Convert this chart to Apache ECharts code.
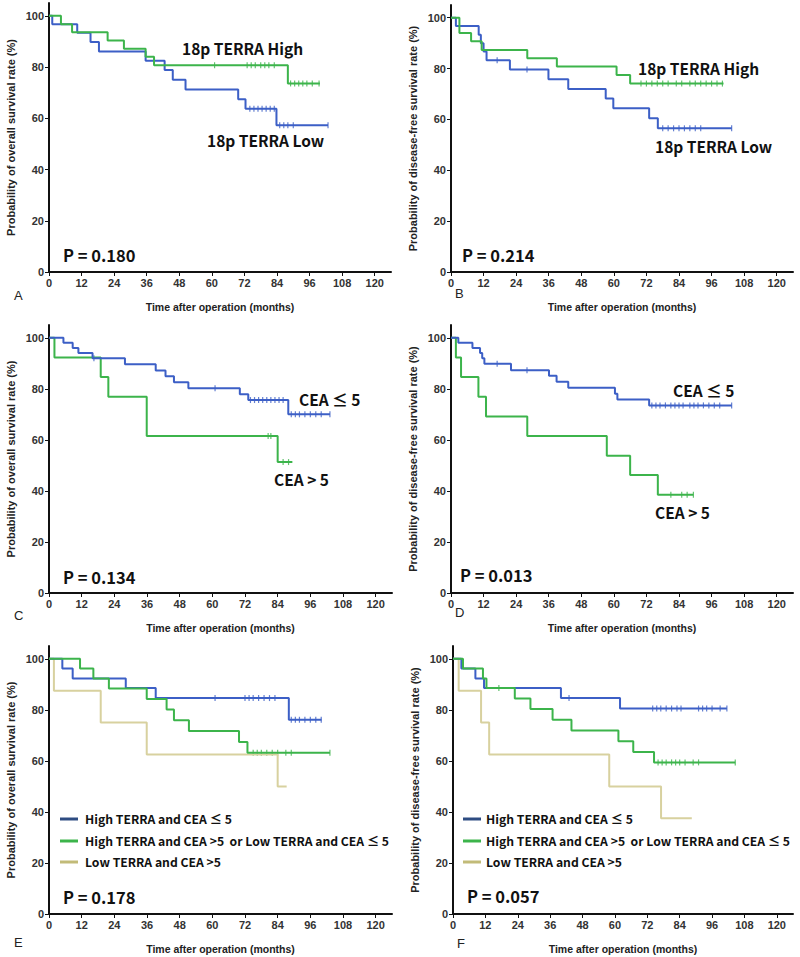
<!DOCTYPE html>
<html><head><meta charset="utf-8">
<script src="https://cdn.jsdelivr.net/npm/echarts@6/dist/echarts.min.js"></script>
<style>html,body{margin:0;padding:0;background:#fff}#c{width:800px;height:957px}</style>
</head><body><div id="c"></div>
<script>
// ---------- data ----------
const xTicks = [0, 12, 24, 36, 48, 60, 72, 84, 96, 108, 120];
const yTicks = [0, 20, 40, 60, 80, 100];
const panelLetters = ['A', 'B', 'C', 'D', 'E', 'F'];
const pValues = ['P = 0.180', 'P = 0.214', 'P = 0.134', 'P = 0.013', 'P = 0.178', 'P = 0.057'];
const yTitles = ['Probability of overall survival rate (%)', 'Probability of disease-free survival rate (%)'];
const xTitle = 'Time after operation (months)';
const legendNames = ['High TERRA and CEA \u2264 5', 'High TERRA and CEA >5  or Low TERRA and CEA \u2264 5', 'Low TERRA and CEA >5'];

// Panel A (OS, 18p TERRA)
const A_high_t = [0, 4.4, 8.5, 21.6, 27.6, 35.6, 38.7, 88, 99.8];
const A_high_s = [100, 96.7, 93.6, 90.4, 87.1, 84, 80.7, 73.6, 73.6];
const A_high_c = [61, 73, 74.5, 76, 78, 79.5, 81, 83, 89, 90.5, 92, 93.5, 95, 97, 99.5];
const A_low_t = [0, 1.2, 10.4, 15.3, 18.4, 35.6, 42.6, 45.6, 50.3, 69.7, 72.4, 83.8, 102.8];
const A_low_s = [100, 96.7, 93.4, 89.8, 86.1, 82.5, 78.8, 75, 71.2, 67.4, 63.7, 57.3, 57.3];
const A_low_c = [74, 75.5, 77, 78.5, 80, 81.5, 83, 85, 86.5, 88, 90, 102.8];
// Panel B (DFS, 18p TERRA)
const B_high_t = [0, 3.1, 7.4, 11.3, 28.1, 39, 61, 66, 100.4];
const B_high_s = [100, 94, 90.7, 87.3, 84.1, 80.8, 77.5, 74.1, 74.1];
const B_high_c = [70, 72, 74, 76, 78, 80, 83, 85, 88, 90, 92, 94, 96, 98, 100];
const B_low_t = [0, 1.8, 10.2, 11, 12, 13.1, 21.7, 35.9, 43.2, 57, 59.8, 73, 76.2, 103.4];
const B_low_s = [100, 96.7, 93.3, 90, 86.7, 83.3, 79.6, 75.8, 72, 68.2, 64.4, 60.5, 56.5, 56.5];
const B_low_c = [17, 28, 78, 80, 82, 84, 86, 88, 90, 92, 103.4];
// Panel C (OS, CEA)
const C_low_t = [0, 5.3, 8.7, 10.8, 16, 27.9, 39.2, 42.8, 45.9, 51.2, 70.1, 73.2, 87.9, 103.2];
const C_low_s = [100, 98, 96, 94, 92, 89.6, 87.2, 84.9, 82.6, 80.2, 77.9, 75.6, 70, 70];
const C_low_c = [16.5, 61, 74, 75.5, 77, 78.5, 80, 81.5, 83, 84.5, 86, 89, 90.5, 92, 94, 96, 98, 100, 103.2];
const C_high_t = [0, 2, 19, 21.8, 35.9, 84, 89.4];
const C_high_s = [100, 92.3, 84.6, 76.9, 61.5, 51.3, 51.3];
const C_high_c = [80.5, 81.5, 86, 88];
// Panel D (DFS, CEA)
const D_low_t = [0, 2.7, 7.9, 10.7, 11.5, 12.3, 22.1, 36.1, 38.9, 43.2, 60.4, 61.3, 73, 103.4];
const D_low_s = [100, 98, 96, 94, 92, 89.8, 87.3, 85.1, 82.8, 80.4, 78.1, 75.8, 73.5, 73.5];
const D_low_c = [17, 28, 74, 75.5, 77, 79, 81, 82.5, 84, 85.5, 88, 89.5, 91, 93, 95, 97, 99, 103.4];
const D_high_t = [0, 1.8, 3.7, 10.1, 12.9, 28.1, 57.4, 66, 76.2, 89.3];
const D_high_s = [100, 92.3, 84.6, 76.9, 69.2, 61.5, 53.8, 46.2, 38.5, 38.5];
const D_high_c = [81, 85, 87, 89.3];
// Panel E (OS, combined)
const E_g1_t = [0, 4.9, 8.7, 28.2, 39.2, 88.1, 100.1];
const E_g1_s = [100, 96.2, 92.3, 88.5, 84.6, 76.1, 76.1];
const E_g1_c = [61, 72, 73.5, 75, 77, 79, 81, 83, 89, 90.5, 92, 94, 96, 98, 100];
const E_g2_t = [0, 11.4, 16.3, 22, 35.9, 43.2, 45.9, 51.4, 69.8, 72.9, 103.2];
const E_g2_s = [100, 96.2, 92.3, 88.3, 84.2, 80.1, 75.9, 71.7, 67.4, 63.2, 63.2];
const E_g2_c = [75, 76.5, 78, 80, 82, 84, 87, 89, 103.2];
const E_g3_t = [0, 1.8, 19, 35.9, 84, 87.3];
const E_g3_s = [100, 87.5, 75, 62.5, 50, 50];
const E_g3_c = [];
// Panel F (DFS, combined)
const F_g1_t = [0, 3.1, 8.3, 11.5, 40, 61.9, 101.5];
const F_g1_s = [100, 96.2, 92.3, 88.5, 84.6, 80.5, 80.5];
const F_g1_c = [43, 74, 75.5, 77, 79, 81, 83, 84.5, 91, 92.5, 94, 96, 99, 101.5];
const F_g2_t = [0, 3.7, 11.1, 12.4, 22.9, 28.7, 36.9, 43.9, 61.3, 66.8, 74.5, 104.6];
const F_g2_s = [100, 96.2, 92.3, 88.5, 84.4, 80.3, 76.1, 71.9, 67.7, 63.5, 59.4, 59.4];
const F_g2_c = [17, 76, 77.5, 79, 81, 82.5, 84, 86, 89, 91, 104.6];
const F_g3_t = [0, 2.1, 10.4, 13.4, 57.9, 77.1, 88.5];
const F_g3_s = [100, 87.5, 75, 62.5, 50, 37.5, 37.5];
const F_g3_c = [];

// ---------- styles / layout ----------
const BLUE = '#3c5fc6', GREEN = '#3cb44b', YEL = '#d8d19f';
const LEG = ['#2e4c82', '#3cb44b', '#c2bb78'];
const grids = [
  {left: 49, top: 3, width: 342, height: 269},
  {left: 451, top: 5, width: 342, height: 267},
  {left: 49, top: 325, width: 343, height: 268},
  {left: 451, top: 325, width: 342, height: 268},
  {left: 49, top: 646, width: 343, height: 268},
  {left: 453, top: 646, width: 340, height: 268}
];
const curves = [
  [[A_low_t, A_low_s, A_low_c, BLUE], [A_high_t, A_high_s, A_high_c, GREEN]],
  [[B_low_t, B_low_s, B_low_c, BLUE], [B_high_t, B_high_s, B_high_c, GREEN]],
  [[C_high_t, C_high_s, C_high_c, GREEN], [C_low_t, C_low_s, C_low_c, BLUE]],
  [[D_high_t, D_high_s, D_high_c, GREEN], [D_low_t, D_low_s, D_low_c, BLUE]],
  [[E_g3_t, E_g3_s, E_g3_c, YEL], [E_g1_t, E_g1_s, E_g1_c, BLUE], [E_g2_t, E_g2_s, E_g2_c, GREEN]],
  [[F_g3_t, F_g3_s, F_g3_c, YEL], [F_g1_t, F_g1_s, F_g1_c, BLUE], [F_g2_t, F_g2_s, F_g2_c, GREEN]]
];

function survAt(t, s, x) { let v = s[0]; for (let i = 0; i < t.length; i++) { if (t[i] <= x) v = s[i]; } return v; }

const FONT = 'Liberation Sans';
const xAxes = [], yAxes = [], series = [];
grids.forEach((g, i) => {
  xAxes.push({
    type: 'value', gridIndex: i, min: 0, max: 126, interval: 12,
    name: xTitle, nameLocation: 'middle', nameGap: 29,
    nameTextStyle: {fontFamily: FONT, fontWeight: 'bold', fontSize: 10.5, color: '#222'},
    axisLine: {show: true, onZero: false, lineStyle: {color: '#111', width: 2}},
    axisTick: {show: true, length: 4, lineStyle: {color: '#111', width: 1}, customValues: xTicks},
    axisLabel: {fontFamily: FONT, fontWeight: 'bold', fontSize: 11, color: '#333', margin: 5, customValues: xTicks},
    splitLine: {show: false}
  });
  yAxes.push({
    type: 'value', gridIndex: i, min: 0, max: 105, interval: 20,
    name: yTitles[i % 2], nameLocation: 'middle', nameGap: 33,
    nameTextStyle: {fontFamily: FONT, fontWeight: 'bold', fontSize: 11, color: '#222'},
    axisLine: {show: true, onZero: false, lineStyle: {color: '#111', width: 2}},
    axisTick: {show: true, length: 4, lineStyle: {color: '#111', width: 1}, customValues: yTicks},
    axisLabel: {fontFamily: FONT, fontWeight: 'bold', fontSize: 11, color: '#333', margin: 5, customValues: yTicks},
    splitLine: {show: false}
  });
  curves[i].forEach(([t, s, c, col]) => {
    series.push({
      type: 'line', step: 'end', xAxisIndex: i, yAxisIndex: i, showSymbol: false, animation: false,
      data: t.map((x, k) => [x, s[k]]), lineStyle: {color: col, width: 2}, itemStyle: {color: col}
    });
    if (c.length) series.push({
      type: 'scatter', xAxisIndex: i, yAxisIndex: i, animation: false, symbol: 'rect', symbolSize: [1.2, 6],
      data: c.map(x => [x, survAt(t, s, x)]), itemStyle: {color: col}
    });
  });
});

const graphic = [];
const letterPos = [[14, 295], [455, 293], [14, 615], [455, 612], [14, 942], [457, 943]];
letterPos.forEach((p, i) => graphic.push({type: 'text', x: p[0], y: p[1],
  style: {text: panelLetters[i], font: '13px "Liberation Sans"', fill: '#222', textVerticalAlign: 'middle'}}));
const pPos = [[63, 255], [462, 255], [63, 577], [460, 575], [63, 897], [467, 896]];
pPos.forEach((p, i) => graphic.push({type: 'text', x: p[0], y: p[1],
  style: {text: pValues[i], font: 'bold 16.5px "Noto Sans CJK KR"', fill: '#111', textVerticalAlign: 'middle'}}));
const annos = [
  ['18p TERRA High', 182, 48], ['18p TERRA Low', 207, 140],
  ['18p TERRA High', 638, 68], ['18p TERRA Low', 655, 146],
  ['CEA \u2264 5', 299, 399], ['CEA > 5', 274, 479],
  ['CEA \u2264 5', 673, 390], ['CEA > 5', 655, 512]
];
annos.forEach(a => graphic.push({type: 'text', x: a[1], y: a[2],
  style: {text: a[0], font: 'bold 15.5px "Noto Sans CJK KR"', fill: '#111', textVerticalAlign: 'middle'}}));
const legY = [819, 841, 862];
[[60, 85], [463, 486]].forEach(([lx, tx]) => {
  legendNames.forEach((n, k) => {
    graphic.push({type: 'rect', shape: {x: lx, y: legY[k] - 1.5, width: 18, height: 3}, style: {fill: LEG[k]}});
    graphic.push({type: 'text', x: tx, y: legY[k],
      style: {text: n, font: 'bold 12.2px "Noto Sans CJK KR"', fill: '#111', textVerticalAlign: 'middle'}});
  });
});

const chart = echarts.init(document.getElementById('c'), null, {renderer: 'svg'});
chart.setOption({
  backgroundColor: '#fff', animation: false,
  grid: grids, xAxis: xAxes, yAxis: yAxes, series: series, graphic: graphic
});
</script></body></html>
